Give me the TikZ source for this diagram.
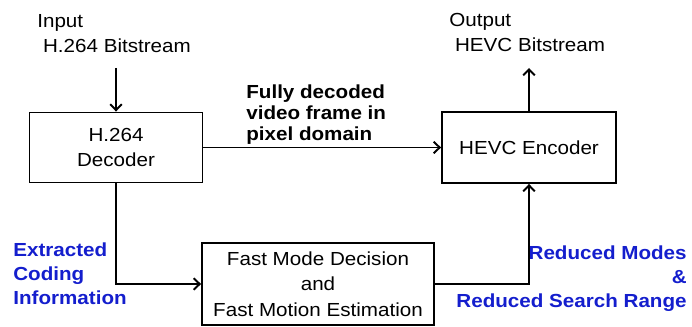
\documentclass[tikz,border=0pt]{standalone}
\usepackage{fontspec}
\setmainfont{Liberation Sans}[FakeStretch=1.09]
\usetikzlibrary{arrows.meta}
\definecolor{InfoBlue}{RGB}{20,30,205}

\begin{document}
\begin{tikzpicture}[x=0.02cm,y=-0.02cm,>={Straight Barb[length=3.4pt,width=6.6pt]},
    box/.style={draw,line width=1.1pt,inner sep=0pt,align=center,font=\fontsize{10.76}{14.6}\selectfont},
    lbl/.style={inner sep=0pt,font=\fontsize{10.76}{14.6}\selectfont},
    note/.style={inner sep=0pt,font=\bfseries\fontsize{10.76}{13.6}\selectfont,text=InfoBlue},
    flow/.style={->,line width=1.1pt}]
      \useasboundingbox (0,0) rectangle (692,327);
      \node[box,minimum width=3.46cm,minimum height=1.4cm] (dec) at (116,147.5) {H.264\\Decoder};
      \node[box,minimum width=3.48cm,minimum height=1.42cm] (enc) at (529,147.5) {HEVC Encoder};
      \node[box,minimum width=4.64cm,minimum height=1.64cm] (fast) at (318,284) {Fast Mode Decision\\and\\Fast Motion Estimation};
      \node[lbl,align=left,anchor=base west] (in) at (37,53) {Input\\\ H.264 Bitstream};
      \node[lbl,align=left,anchor=base west] (out) at (449,52) {Output\\\ HEVC Bitstream};
      \node[lbl,align=left,anchor=base west,font=\bfseries\fontsize{10.76}{12.1}\selectfont] (pix) at (246,141) {Fully decoded\\video frame in\\pixel domain};
      \node[note,align=left,anchor=base west] (ext) at (13,304) {Extracted\\Coding\\Information};
      \node[note,align=right,anchor=base east] (red) at (687,307) {Reduced Modes\\\&\\Reduced Search Range};
      \coordinate (inTip) at (116,68);
      \coordinate (outTip) at (529,68);
      \draw[flow] (inTip) -- (dec);
      \draw[flow] (enc) -- (outTip);
      \draw[flow] (dec) -- (enc);
      \draw[flow] (dec.south) |- (fast);
      \draw[flow] (fast) -| (enc.south);
    \end{tikzpicture}
\end{document}
